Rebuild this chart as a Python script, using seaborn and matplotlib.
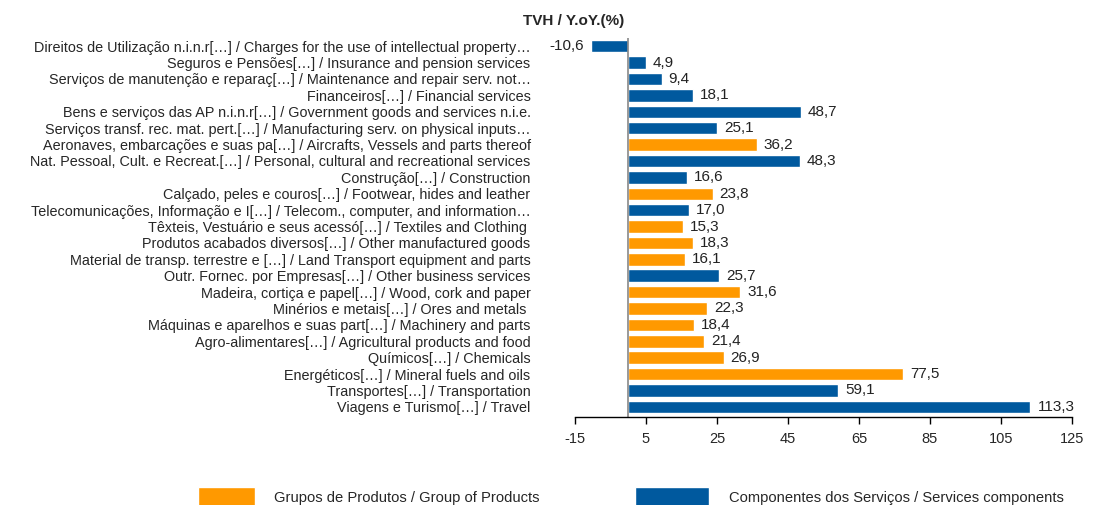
import matplotlib
matplotlib.use("Agg")
import matplotlib.pyplot as plt
import seaborn as sns
import pandas as pd
from matplotlib.patches import Patch

# Data (top to bottom)
labels = [
    "Direitos de Utilização n.i.n.r[…] / Charges for the use of intellectual property…",
    "Seguros e Pensões[…] / Insurance and pension services",
    "Serviços de manutenção e reparaç[…] / Maintenance and repair serv. not…",
    "Financeiros[…] / Financial services",
    "Bens e serviços das AP n.i.n.r[…] / Government goods and services n.i.e.",
    "Serviços transf. rec. mat. pert.[…] / Manufacturing serv. on physical inputs…",
    "Aeronaves, embarcações e suas pa[…] / Aircrafts, Vessels and parts thereof",
    "Nat. Pessoal, Cult. e Recreat.[…] / Personal, cultural and recreational services",
    "Construção[…] / Construction",
    "Calçado, peles e couros[…] / Footwear, hides and leather",
    "Telecomunicações, Informação e I[…] / Telecom., computer, and information…",
    "Têxteis, Vestuário e seus acessó[…] / Textiles and Clothing ",
    "Produtos acabados diversos[…] / Other manufactured goods",
    "Material de transp. terrestre e […] / Land Transport equipment and parts",
    "Outr. Fornec. por Empresas[…] / Other business services",
    "Madeira, cortiça e papel[…] / Wood, cork and paper",
    "Minérios e metais[…] / Ores and metals ",
    "Máquinas e aparelhos e suas part[…] / Machinery and parts",
    "Agro-alimentares[…] / Agricultural products and food",
    "Químicos[…] / Chemicals",
    "Energéticos[…] / Mineral fuels and oils",
    "Transportes[…] / Transportation",
    "Viagens e Turismo[…] / Travel",
]
values = [-10.6, 4.9, 9.4, 18.1, 48.7, 25.1, 36.2, 48.3, 16.6, 23.8, 17.0, 15.3,
          18.3, 16.1, 25.7, 31.6, 22.3, 18.4, 21.4, 26.9, 77.5, 59.1, 113.3]
G = "Grupos de Produtos / Group of Products"
S = "Componentes dos Serviços / Services components"
groups = [S, S, S, S, S, S, G, S, S, G, S, G, G, G, S, G, G, G, G, G, G, S, S]
xticks = [-15, 5, 25, 45, 65, 85, 105, 125]
title = "TVH / Y.oY.(%)"

orange = "#FF9900"
blue = "#00599E"

sns.set_theme(style="white")
plt.rcParams["font.family"] = ["Liberation Sans", "DejaVu Sans"]

df = pd.DataFrame({"label": labels, "value": values, "group": groups})

fig = plt.figure(figsize=(11.09, 5.05), dpi=100)
ax = fig.add_axes([575 / 1109, 1 - 416.7 / 505, (1072 - 575) / 1109, (416.7 - 38) / 505])

sns.barplot(data=df, x="value", y="label", hue="group", dodge=False,
            palette={G: orange, S: blue}, order=labels, orient="h",
            width=0.76, saturation=1, legend=False, ax=ax)

for c in ax.containers:
    ax.bar_label(c, labels=[f"{v:.1f}".replace(".", ",") for v in c.datavalues],
                 padding=5, fontsize=11, color="#222222")

ax.axvline(0, color="#888888", lw=1.2)
ax.set_xlim(-15, 125)
ax.set_ylim(22.6, -0.5)
ax.set_xticks(xticks)
ax.set_xticklabels([str(t) for t in xticks], fontsize=10.5)
ax.set_xlabel("")
ax.set_ylabel("")
for side in ["left", "right", "top"]:
    ax.spines[side].set_visible(False)
ax.spines["bottom"].set_color("black")
ax.spines["bottom"].set_linewidth(1)
ax.tick_params(axis="x", bottom=True, direction="out", length=5, width=1, color="black", pad=6)
ax.tick_params(axis="y", left=False, length=0, pad=32, labelsize=10.4)

fig.text(574 / 1109, 1 - 21 / 505, title, ha="center", va="center",
         fontsize=11, fontweight="bold")

# two legend entries, each with its own patch width as in the reference
fig.legend(handles=[Patch(facecolor=orange, label=G)], loc="upper left",
           bbox_to_anchor=(198 / 1109, 1 - 487 / 505), frameon=False, fontsize=10.6,
           handlelength=3.9, handleheight=1.75, handletextpad=1.24,
           borderpad=0, borderaxespad=0)
fig.legend(handles=[Patch(facecolor=blue, label=S)], loc="upper left",
           bbox_to_anchor=(635 / 1109, 1 - 487 / 505), frameon=False, fontsize=10.6,
           handlelength=5.06, handleheight=1.75, handletextpad=1.3,
           borderpad=0, borderaxespad=0)

fig.savefig("out.png", dpi=100)
